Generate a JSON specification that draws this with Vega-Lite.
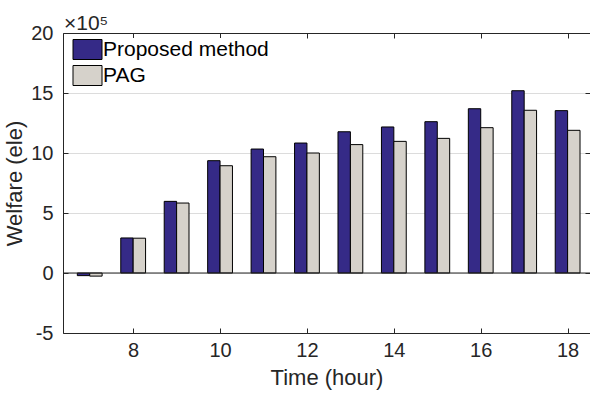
{
  "$schema": "https://vega.github.io/schema/vega-lite/v6.json",
  "width": 527,
  "height": 300,
  "autosize": {"type": "none"},
  "padding": {"left": 63, "top": 33, "right": 0, "bottom": 61},
  "background": "white",
  "config": {
    "font": "Liberation Sans",
    "view": {"stroke": null},
    "axis": {
      "domainColor": "#262626",
      "tickColor": "#262626",
      "labelColor": "#262626",
      "titleColor": "#262626",
      "labelFont": "Liberation Sans",
      "titleFont": "Liberation Sans",
      "labelFontSize": 20,
      "titleFontSize": 22,
      "titleFontWeight": "normal",
      "tickSize": -5,
      "domainWidth": 1,
      "tickWidth": 1
    }
  },
  "title": {
    "text": "×10⁵",
    "anchor": "start",
    "frame": "group",
    "font": "Liberation Sans",
    "fontSize": 21,
    "fontWeight": "normal",
    "color": "#262626",
    "offset": 4,
    "dx": 1,
    "dy": 15
  },
  "data": {
    "values": [
      {"hour": 7, "method": "Proposed method", "value": -22000},
      {"hour": 7, "method": "PAG", "value": -26000},
      {"hour": 8, "method": "Proposed method", "value": 292000},
      {"hour": 8, "method": "PAG", "value": 290000},
      {"hour": 9, "method": "Proposed method", "value": 597000},
      {"hour": 9, "method": "PAG", "value": 583000},
      {"hour": 10, "method": "Proposed method", "value": 936000},
      {"hour": 10, "method": "PAG", "value": 894000},
      {"hour": 11, "method": "Proposed method", "value": 1033000},
      {"hour": 11, "method": "PAG", "value": 969000},
      {"hour": 12, "method": "Proposed method", "value": 1083000},
      {"hour": 12, "method": "PAG", "value": 1000000},
      {"hour": 13, "method": "Proposed method", "value": 1177000},
      {"hour": 13, "method": "PAG", "value": 1070000},
      {"hour": 14, "method": "Proposed method", "value": 1217000},
      {"hour": 14, "method": "PAG", "value": 1097000},
      {"hour": 15, "method": "Proposed method", "value": 1261000},
      {"hour": 15, "method": "PAG", "value": 1122000},
      {"hour": 16, "method": "Proposed method", "value": 1369000},
      {"hour": 16, "method": "PAG", "value": 1211000},
      {"hour": 17, "method": "Proposed method", "value": 1519000},
      {"hour": 17, "method": "PAG", "value": 1356000},
      {"hour": 18, "method": "Proposed method", "value": 1353000},
      {"hour": 18, "method": "PAG", "value": 1189000}
    ]
  },
  "resolve": {"axis": {"x": "independent", "y": "independent"}},
  "layer": [
    {
      "transform": [{"filter": "datum.method === 'Proposed method'"}],
      "mark": {"type": "bar", "width": 12.4, "xOffset": -6.2, "stroke": "#000000", "strokeWidth": 1},
      "encoding": {
        "x": {
          "field": "hour", "type": "quantitative",
          "scale": {"domain": [6.5, 18.4], "nice": false, "zero": false},
          "axis": {"values": [8, 10, 12, 14, 16, 18], "title": "Time (hour)", "grid": false, "labelPadding": 12, "titlePadding": 7}
        },
        "y": {
          "field": "value", "type": "quantitative",
          "scale": {"domain": [-500000, 2000000], "nice": false},
          "axis": {"values": [-500000, 0, 500000, 1000000, 1500000, 2000000], "labelExpr": "'' + (datum.value / 100000)", "title": "Welfare (ele)", "grid": true, "gridColor": "#dcdcdc", "labelPadding": 15, "titlePadding": 4}
        },
        "color": {
          "field": "method", "type": "nominal",
          "scale": {"domain": ["Proposed method", "PAG"], "range": ["#352a87", "#d6d2cb"]},
          "legend": {
            "title": null,
            "orient": "none",
            "legendX": 13,
            "legendY": 5,
            "fillColor": "white",
            "padding": 1,
            "symbolType": "M-1.45,-1L1.45,-1L1.45,1L-1.45,1Z",
            "symbolSize": 400,
            "symbolStrokeColor": "#000000",
            "symbolStrokeWidth": 1,
            "symbolOpacity": 1,
            "labelFontSize": 21,
            "labelColor": "#000000",
            "labelOffset": 5,
            "labelLimit": 0,
            "rowPadding": 1
          }
        }
      }
    },
    {
      "transform": [{"filter": "datum.method === 'PAG'"}],
      "mark": {"type": "bar", "width": 12.4, "xOffset": 6.2, "stroke": "#000000", "strokeWidth": 1},
      "encoding": {
        "x": {
          "field": "hour", "type": "quantitative",
          "axis": {"orient": "top", "values": [8, 10, 12, 14, 16, 18], "labels": false, "title": null, "grid": false}
        },
        "y": {
          "field": "value", "type": "quantitative",
          "axis": {"orient": "right", "values": [-500000, 0, 500000, 1000000, 1500000, 2000000], "labels": false, "title": null, "grid": false, "domain": false}
        },
        "color": {"field": "method", "type": "nominal"}
      }
    },
    {
      "data": {"values": [{"value": 0}]},
      "mark": {"type": "rule", "color": "#262626", "strokeWidth": 1},
      "encoding": {
        "y": {"field": "value", "type": "quantitative", "axis": null}
      }
    }
  ]
}
